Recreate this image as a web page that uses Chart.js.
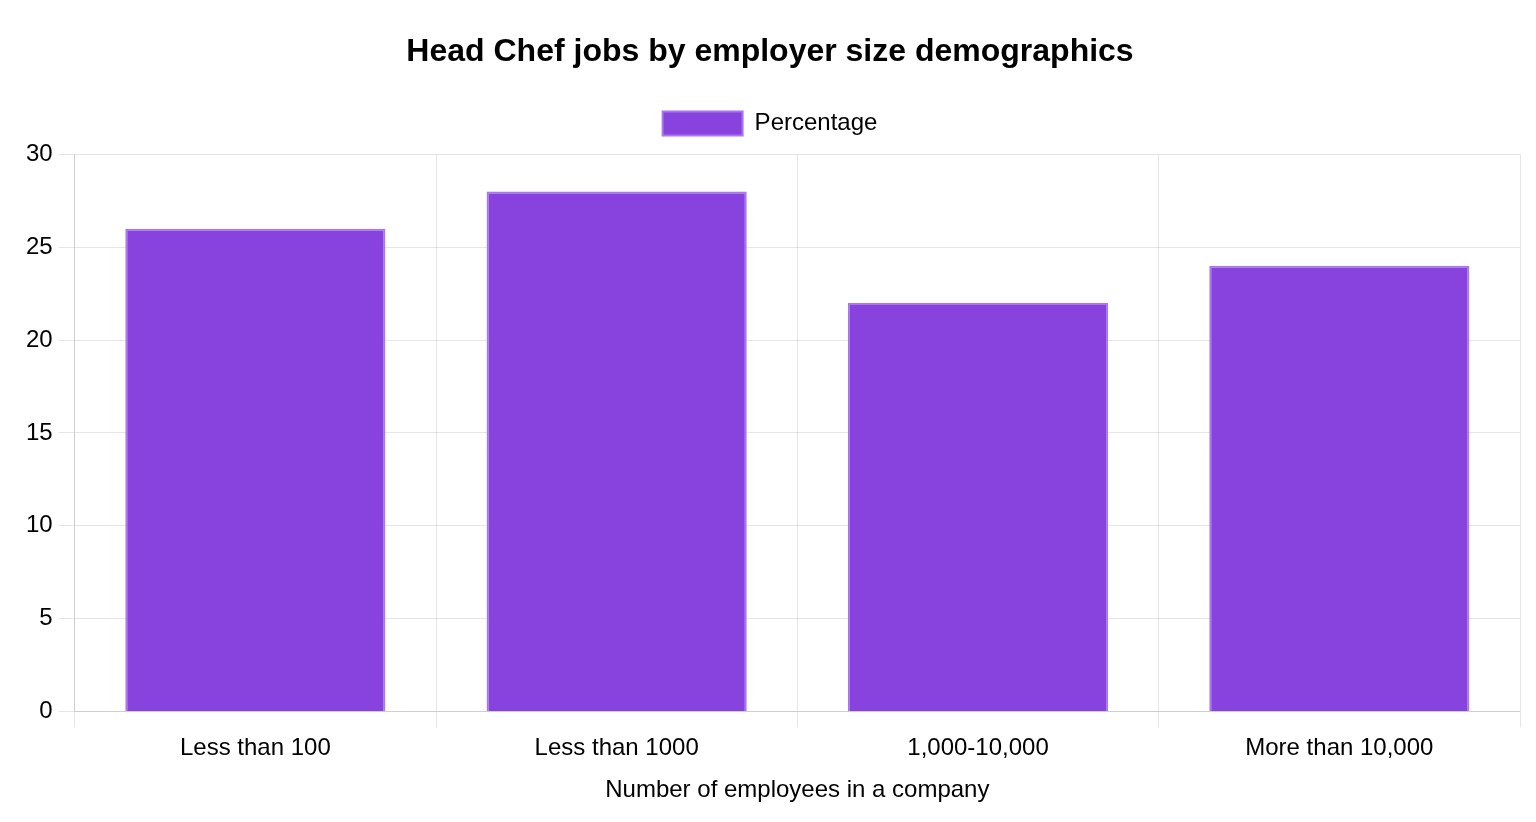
<!DOCTYPE html>
<html>
<head>
<meta charset="utf-8">
<script src="https://cdn.jsdelivr.net/npm/chart.js@4/dist/chart.umd.min.js"></script>
<style>
  html, body { margin: 0; padding: 0; background: #fff; }
  #wrap { width: 1536px; height: 822px; }
</style>
</head>
<body>
<div id="wrap"><canvas id="myChart"></canvas></div>
<script>
var categories = ["Less than 100", "Less than 1000", "1,000-10,000", "More than 10,000"]
var percentage = [26, 28, 22, 24]
var yTicks = { min: 0, max: 30, step: 5 }

Chart.defaults.font.family = "'Liberation Sans', Arial, Helvetica, sans-serif"
Chart.defaults.font.size = 24
Chart.defaults.color = "#000"

// a bit of extra room under the legend
var legendMargin = {
    id: "legendMargin",
    beforeInit: function(chart){
        var fit = chart.legend.fit
        chart.legend.fit = function(){
            fit.bind(chart.legend)()
            this.height += 9
        }
    }
}

var ctx = document.getElementById("myChart").getContext("2d")

var chart = new Chart(ctx, {
    type: "bar",
    data: {
        labels: categories,
        datasets: [
            {
                label: "Percentage",
                data: percentage,
                backgroundColor: "#8842dd",
                borderColor: "#a877f0",
                borderWidth: 2
            }
        ]
    },
    options: {
        responsive: true,
        maintainAspectRatio: false,
        animation: false,
        layout: { padding: { left: 20, right: 16, top: 13, bottom: 9 } },
        plugins: {
            title: {
                display: true,
                text: "Head Chef jobs by employer size demographics",
                font: { size: 32, weight: "bold" },
                color: "#000",
                padding: { top: 20, bottom: 20 }
            },
            legend: {
                labels: { boxWidth: 80, boxHeight: 24, padding: 20 }
            },
            tooltip: { enabled: false }
        },
        scales: {
            x: {
                grid: { tickLength: 16, color: "rgba(0,0,0,0.1)", lineWidth: 1 },
                ticks: { padding: 7 },
                title: {
                    display: true,
                    text: "Number of employees in a company",
                    padding: { top: 6, bottom: 8 }
                }
            },
            y: {
                min: yTicks.min,
                max: yTicks.max,
                grid: { tickLength: 16, color: "rgba(0,0,0,0.1)" },
                ticks: { stepSize: yTicks.step, padding: 6 }
            }
        }
    },
    plugins: [legendMargin]
})
</script>
</body>
</html>
